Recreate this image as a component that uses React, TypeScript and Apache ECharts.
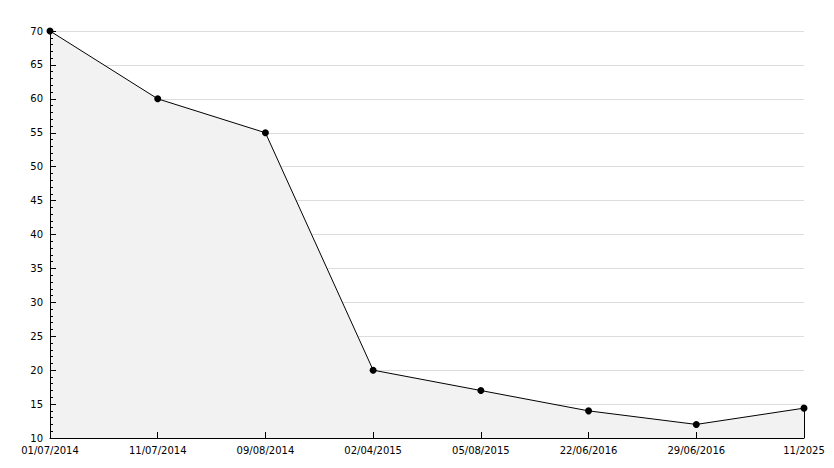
import React, { useEffect, useRef } from "react";
import * as echarts from "echarts";

const categories = [
  "01/07/2014",
  "11/07/2014",
  "09/08/2014",
  "02/04/2015",
  "05/08/2015",
  "22/06/2016",
  "29/06/2016",
  "11/2025",
];
const values = [70, 60, 55, 20, 17, 14, 12, 14.4];
const yMin = 10;
const yMax = 70;
const yInterval = 5;

export default function App() {
  const ref = useRef<HTMLDivElement>(null);
  useEffect(() => {
    if (!ref.current) return;
    const chart = echarts.init(ref.current, undefined, { renderer: "svg" });
    const lastIdx = categories.length - 1;
    const labelStyle = { color: "#000", fontFamily: "DejaVu Sans", fontSize: 10, margin: 7 };
    chart.setOption({
      animation: false,
      backgroundColor: "#ffffff",
      textStyle: { fontFamily: "DejaVu Sans", fontSize: 10 },
      grid: { left: 50, right: 30, top: 31, bottom: 30, containLabel: false },
      xAxis: [
        {
          type: "category",
          data: categories,
          boundaryGap: false,
          z: 0,
          axisLine: { show: false },
          axisTick: { show: false },
          axisLabel: { show: false },
          splitLine: { show: false },
        },
        {
          type: "category",
          data: categories,
          boundaryGap: false,
          position: "bottom",
          z: 5,
          axisLine: { show: true, lineStyle: { color: "#000", width: 1 } },
          axisTick: { show: true, inside: true, length: 6, alignWithLabel: true, lineStyle: { color: "#000" } },
          axisLabel: { ...labelStyle, interval: 0 },
          splitLine: { show: false },
        },
      ],
      yAxis: [
        {
          type: "value",
          min: yMin,
          max: yMax,
          interval: yInterval,
          z: 0,
          axisLine: { show: false },
          axisTick: { show: false },
          axisLabel: { show: false },
          splitLine: { show: true, lineStyle: { color: "#dddddd", width: 1 } },
        },
        {
          type: "value",
          min: yMin,
          max: yMax,
          interval: yInterval,
          position: "left",
          z: 5,
          axisLine: { show: true, onZero: false, lineStyle: { color: "#000", width: 1 } },
          axisTick: { show: true, inside: true, length: 6, lineStyle: { color: "#000" } },
          minorTick: { show: true, splitNumber: 5, length: 3, lineStyle: { color: "#000" } },
          axisLabel: labelStyle,
          splitLine: { show: false },
        },
      ],
      series: [
        {
          type: "line",
          xAxisIndex: 0,
          yAxisIndex: 0,
          data: values,
          symbol: "circle",
          symbolSize: 7,
          lineStyle: { color: "#000", width: 1 },
          itemStyle: { color: "#000" },
          areaStyle: { color: "#f2f2f2", opacity: 1 },
          markLine: {
            silent: true,
            symbol: "none",
            label: { show: false },
            lineStyle: { color: "#000", width: 1, type: "solid" },
            data: [
              [
                { coord: [categories[lastIdx], yMin] },
                { coord: [categories[lastIdx], values[lastIdx]] },
              ],
            ],
          },
        },
      ],
    });
    return () => chart.dispose();
  }, []);
  return (
    <div
      ref={ref}
      style={{ position: "fixed", left: 0, top: 0, width: 834, height: 468 }}
    />
  );
}
